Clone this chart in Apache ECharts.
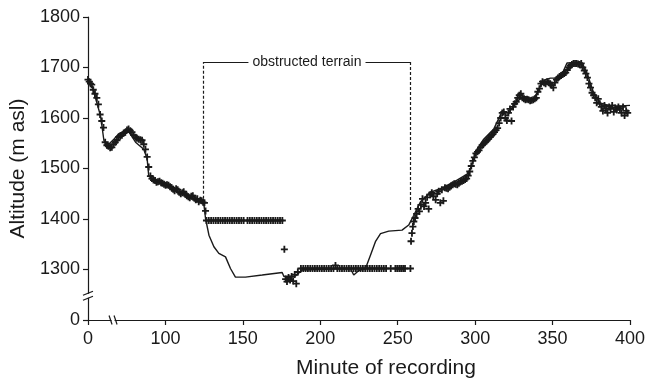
<!DOCTYPE html>
<html>
<head>
<meta charset="utf-8">
<script src="https://cdn.jsdelivr.net/npm/echarts@6/dist/echarts.min.js"></script>
<style>
  html, body { margin: 0; background: #fff; }
  #chart { width: 661px; height: 384px; }
</style>
</head>
<body>
<div id="chart"></div>
<script>
// smoothed track (solid line)
const trackMinutes = [50, 52.7, 58.1, 60.3, 63.4, 66.7, 69.9, 75.3, 77.4, 80.7, 86.0, 88.2, 89.2, 91.4, 100.1,
  108.6, 117.3, 122.8, 124.8, 125.9, 128.1, 131.3, 134.5, 138.8, 142.0, 145.2, 151.7, 162.5, 175.4, 176.5,
  184.0, 188.3, 207.6, 219.5, 221.6, 224.9, 229.2, 232.4, 235.6, 238.9, 244.2, 252.8, 257.1, 260.3, 264.7,
  271.1, 277.6, 286.2, 294.8, 296.9, 301.3, 305.5, 312.0, 317.5, 320.7, 326.0, 331.4, 337.8, 342.1, 345.3,
  348.6, 355.0, 359.3, 369.0, 372.2, 376.5, 380.8, 387.2, 393.7, 400];
const trackAltitude = [1675, 1663, 1604, 1555, 1548, 1558, 1569, 1576, 1568, 1552, 1538, 1519, 1486, 1479, 1470,
  1453, 1440, 1434, 1430, 1401, 1368, 1345, 1332, 1325, 1302, 1285, 1285, 1289, 1294, 1286,
  1287, 1299, 1301, 1302, 1289, 1298, 1302, 1328, 1355, 1371, 1376, 1378, 1388, 1407, 1434,
  1453, 1460, 1473, 1489, 1499, 1538, 1558, 1578, 1614, 1604, 1630, 1643, 1637, 1663, 1676,
  1679, 1679, 1709, 1710, 1689, 1650, 1630, 1624, 1624, 1625];

// recorded fixes (+ markers)
const gpsMinutes = [50, 50.8, 51.6, 52.4, 53.4, 54.5, 55.7, 56.7, 57.8, 58.9, 60.0, 61.1, 62.2, 63.2, 64.3,
  65.4, 66.5, 67.6, 68.7, 69.7, 70.8, 71.9, 73.0, 74.1, 75.2, 76.2, 77.3, 78.4, 79.5, 80.6, 81.6, 82.7,
  83.8, 84.9, 86.0, 87.1, 88.2, 89.2, 90.3, 91.3, 92.3, 93.3, 94.2, 95.2, 96.2, 97.2, 98.1, 99.1, 100.1,
  101.0, 102.0, 103.0, 104.0, 105.0, 105.9, 106.9, 107.9, 108.9, 109.9, 110.9, 111.8, 112.8, 113.8,
  114.8, 115.7, 116.7, 117.7, 118.7, 119.6, 120.6, 121.5, 122.5, 123.4, 124.3, 125.2, 125.9,
  126.5, 128.0, 129.5, 131.0, 132.5, 134.0, 135.5, 137.0, 138.5, 140.0, 141.5, 143.0, 144.5, 146.0,
  147.5, 149.0, 150.5, 153.0, 154.5, 156.0, 157.5, 159.0, 160.5, 162.0, 163.5, 165.0, 166.5, 168.0,
  169.5, 171.0, 172.5, 174.0, 175.5,
  176.8, 177.6, 178.5, 179.5, 180.5, 181.5, 182.5, 183.5, 184.5, 185.5,
  187.5, 189.0, 190.5, 192.0, 193.5, 195.0, 196.5, 198.0, 199.5, 201.0, 202.5, 204.0, 205.5, 207.0,
  208.5, 209.8, 211.0, 212.5, 214.0, 215.5, 217.0, 218.5, 220.0, 221.5, 223.0, 224.5, 226.0, 227.5,
  229.0, 230.5, 232.0, 233.5, 235.0, 236.5, 238.0, 239.5, 241.0, 242.5,
  245.5, 248.5, 249.7, 251.0, 252.2, 253.5, 254.7, 258.2,
  258.6, 259.2, 259.8, 260.4, 261.2, 262.2, 263.2, 264.0, 265.0, 266.0, 267.0, 268.0, 269.0, 270.0,
  271.0, 272.0, 273.0, 274.5, 275.5, 276.5, 277.5, 278.5, 279.5, 280.5, 281.5, 282.5, 283.5, 284.5,
  285.5, 286.5, 287.5, 288.5, 289.5, 290.5, 291.5, 292.5, 293.5,
  294.5, 295.5, 296.5, 297.5, 298.5, 299.5, 300.5, 301.5, 302.5, 303.5, 304.5, 305.5, 306.5, 307.5,
  308.5, 309.5, 310.5, 311.5, 312.5, 313.5, 314.5,
  315.5, 316.5, 317.5, 318.5, 319.5, 320.5, 321.5, 322.5, 323.5, 324.5, 325.5, 326.5, 327.5, 328.5,
  329.5, 330.5, 331.5, 332.5, 333.5, 334.5, 335.5, 336.5, 337.5, 338.5, 339.5, 340.5, 341.5, 342.5,
  343.5, 344.5, 345.5,
  346.5, 347.5, 348.5, 349.5, 350.5, 351.5, 352.5, 353.5, 354.5, 355.5, 356.5, 357.5, 358.5, 359.5,
  360.5, 361.5, 362.5, 363.5, 364.5, 365.5, 366.5, 367.5, 368.5,
  369.5, 370.5, 371.5, 372.5, 373.5, 374.5, 375.5, 376.5, 377.5, 378.5, 379.5, 380.5, 381.5, 382.5,
  383.5, 384.5, 385.5, 386.5, 387.5, 388.5, 389.5, 390.5, 391.5, 392.5, 393.5, 394.5, 395.5, 396.5,
  397.5, 398.5];
const gpsAltitude = [1676, 1672, 1668, 1666, 1656, 1648, 1640, 1627, 1607, 1594, 1581, 1552, 1546, 1544, 1541,
  1542, 1548, 1552, 1556, 1562, 1564, 1566, 1570, 1572, 1576, 1578, 1575, 1572, 1566, 1562, 1560, 1558,
  1557, 1556, 1548, 1538, 1523, 1503, 1485, 1480, 1477, 1476, 1473, 1474, 1475, 1472, 1471, 1469, 1467,
  1468, 1467, 1464, 1462, 1459, 1456, 1460, 1458, 1453, 1450, 1452, 1454, 1449, 1446,
  1444, 1442, 1445, 1446, 1441, 1438, 1440, 1434, 1437, 1436, 1433, 1432, 1416,
  1397, 1397, 1397, 1397, 1397, 1397, 1397, 1397, 1397, 1397, 1397, 1397, 1397, 1397,
  1397, 1397, 1397, 1397, 1397, 1397, 1397, 1397, 1397, 1397, 1397, 1397, 1397, 1397,
  1397, 1397, 1397, 1397, 1397,
  1340, 1281, 1276, 1284, 1279, 1286, 1277, 1290, 1272, 1295,
  1302, 1302, 1302, 1302, 1302, 1302, 1302, 1302, 1302, 1302, 1302, 1302, 1302, 1302,
  1302, 1308, 1302, 1302, 1302, 1302, 1302, 1302, 1302, 1302, 1302, 1302, 1302, 1302,
  1302, 1302, 1302, 1302, 1302, 1302, 1302, 1302, 1302, 1302,
  1302, 1302, 1302, 1302, 1302, 1302, 1302, 1302,
  1356, 1372, 1385, 1395, 1402, 1410, 1420, 1415, 1428, 1440, 1425, 1432, 1443, 1420,
  1448, 1452, 1445, 1438, 1450, 1455, 1432, 1458, 1436, 1462, 1461, 1460, 1463, 1466,
  1468, 1470, 1469, 1468, 1471, 1474, 1475, 1476, 1478,
  1480, 1486, 1494, 1505, 1515, 1522, 1530, 1533, 1536, 1542, 1546, 1549, 1552, 1555,
  1558, 1562, 1565, 1568, 1572, 1576, 1580,
  1590, 1600, 1610, 1612, 1600, 1595, 1610, 1618, 1594, 1622, 1628, 1632, 1640, 1645,
  1648, 1640, 1638, 1636, 1637, 1636, 1634, 1635, 1636, 1638, 1640, 1652, 1658, 1668,
  1672, 1670, 1668,
  1672, 1670, 1668, 1665, 1660, 1670, 1676, 1679, 1682, 1684, 1686, 1688, 1690, 1695,
  1700, 1704, 1706, 1708, 1708, 1708, 1707, 1706, 1708,
  1700, 1694, 1688, 1680, 1668, 1660, 1650, 1645, 1640, 1630, 1638, 1628, 1622, 1614,
  1625, 1618, 1610, 1622, 1618, 1625, 1612, 1620, 1616, 1622, 1618, 1610, 1622, 1605,
  1614, 1610];

const xTickValues = [50, 100, 150, 200, 250, 300, 350, 400];
const xTickLabels = ['0', '100', '150', '200', '250', '300', '350', '400'];
const yTickValues = [1200, 1300, 1400, 1500, 1600, 1700, 1800];
const yTickLabels = ['0', '1300', '1400', '1500', '1600', '1700', '1800'];

// obstructed terrain bracket
const obstructedFrom = 124.6;
const obstructedTo = 258.2;
const obstructedTop = 1711;
const obstructedLeftBottom = 1430;
const obstructedRightBottom = 1418;

const ink = '#1a1a1a';
const font = 'Liberation Sans, Arial, Helvetica, sans-serif';

const chart = echarts.init(document.getElementById('chart'), null, { renderer: 'canvas' });

const option = {
  animation: false,
  backgroundColor: '#fff',
  grid: { left: 88, right: 31, top: 17, bottom: 61, containLabel: false },
  xAxis: {
    type: 'value',
    min: 50,
    max: 400,
    interval: 50,
    name: 'Minute of recording',
    nameLocation: 'middle',
    nameGap: 38,
    nameTextStyle: { fontFamily: font, fontSize: 21, color: ink, padding: [0, 0, 0, 54] },
    axisLine: { lineStyle: { color: ink, width: 1.2 } },
    axisTick: { show: true, length: 5, lineStyle: { color: ink, width: 1.2 } },
    axisLabel: {
      fontFamily: font, fontSize: 18, color: ink, margin: 10,
      formatter: (v) => xTickLabels[xTickValues.indexOf(v)] ?? ''
    },
    splitLine: { show: false }
  },
  yAxis: {
    type: 'value',
    min: 1200,
    max: 1800,
    interval: 100,
    name: 'Altitude (m asl)',
    nameLocation: 'middle',
    nameGap: 49,
    nameTextStyle: { fontFamily: font, fontSize: 21, color: ink },
    axisLine: { show: true, lineStyle: { color: ink, width: 1.2 } },
    axisTick: { show: true, length: 5, lineStyle: { color: ink, width: 1.2 } },
    axisLabel: {
      fontFamily: font, fontSize: 18, color: ink, margin: 8,
      formatter: (v) => yTickLabels[yTickValues.indexOf(v)] ?? ''
    },
    splitLine: { show: false }
  },
  series: [
    {
      name: 'track',
      type: 'line',
      data: trackMinutes.map((m, i) => [m, trackAltitude[i]]),
      showSymbol: false,
      smooth: false,
      clip: false,
      lineStyle: { color: ink, width: 1.4 },
      z: 3,
      markLine: {
        silent: true,
        symbol: ['none', 'none'],
        label: { show: false },
        lineStyle: { color: ink, width: 1.2, type: [3, 2] },
        data: [
          [{ coord: [obstructedFrom, obstructedLeftBottom] }, { coord: [obstructedFrom, obstructedTop] }],
          [{ coord: [obstructedTo, obstructedRightBottom] }, { coord: [obstructedTo, obstructedTop] }],
          [{ coord: [obstructedFrom, obstructedTop], lineStyle: { type: 'solid' } }, { coord: [153.6, obstructedTop] }],
          [{ coord: [229.2, obstructedTop], lineStyle: { type: 'solid' } }, { coord: [obstructedTo, obstructedTop] }]
        ]
      },
      markPoint: {
        silent: true,
        symbol: 'rect',
        symbolSize: 1,
        itemStyle: { color: 'rgba(0,0,0,0)' },
        label: {
          show: true, position: 'inside', formatter: 'obstructed terrain',
          fontFamily: font, fontSize: 14, color: ink
        },
        data: [{ coord: [191.4, obstructedTop] }]
      }
    },
    {
      name: 'fixes',
      type: 'scatter',
      data: gpsMinutes.map((m, i) => [m, gpsAltitude[i]]),
      symbol: 'path://M3.7,0L6.3,0L6.3,3.7L10,3.7L10,6.3L6.3,6.3L6.3,10L3.7,10L3.7,6.3L0,6.3L0,3.7L3.7,3.7Z',
      symbolSize: 7,
      itemStyle: { color: ink, opacity: 1 },
      z: 4
    }
  ]
};

chart.setOption(option);

// axis break marks
const yb = chart.convertToPixel({ gridIndex: 0 }, [50, 1248]);
const xb = chart.convertToPixel({ gridIndex: 0 }, [66.5, 1200]);
const breakLine = { stroke: ink, lineWidth: 1.2 };
chart.setOption({
  graphic: [
    { type: 'rect', shape: { x: yb[0] - 2, y: yb[1] - 2, width: 4, height: 4 }, style: { fill: '#fff' }, z: 10 },
    { type: 'line', shape: { x1: yb[0] - 5, y1: yb[1] - 0.5, x2: yb[0] + 5, y2: yb[1] - 4.5 }, style: breakLine, z: 11 },
    { type: 'line', shape: { x1: yb[0] - 5, y1: yb[1] + 4.5, x2: yb[0] + 5, y2: yb[1] + 0.5 }, style: breakLine, z: 11 },
    { type: 'rect', shape: { x: xb[0] - 2, y: xb[1] - 2, width: 3, height: 4 }, style: { fill: '#fff' }, z: 10 },
    { type: 'line', shape: { x1: xb[0] - 4.5, y1: xb[1] - 4.5, x2: xb[0] - 1.5, y2: xb[1] + 4.5 }, style: breakLine, z: 11 },
    { type: 'line', shape: { x1: xb[0] + 0.5, y1: xb[1] - 4.5, x2: xb[0] + 3.5, y2: xb[1] + 4.5 }, style: breakLine, z: 11 }
  ]
});
</script>
</body>
</html>
